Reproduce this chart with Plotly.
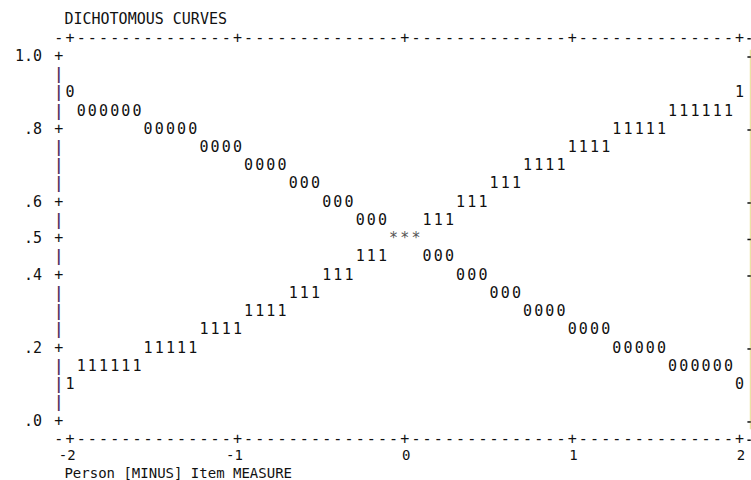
import plotly.graph_objects as go

# Character plot of the two dichotomous category curves (Winsteps style).
TITLE = "DICHOTOMOUS CURVES"
X_TITLE = "Person [MINUS] Item MEASURE"

MEASURE_MIN = -2
MEASURE_MAX = 2
COLS_PER_LOGIT = 15      # character columns per logit along the measure axis
ROW_STEP = 0.05          # probability covered by one text row

# Probability rows on which curve characters are printed
PROB_ROWS = [0.90, 0.85, 0.80, 0.75, 0.70, 0.65, 0.60, 0.55, 0.50,
             0.45, 0.40, 0.35, 0.30, 0.25, 0.20, 0.15, 0.10]
# (first column, last column) occupied by each curve on those rows
CURVE_0_COLS = [(0, 0), (1, 6), (7, 11), (12, 15), (16, 19), (20, 22), (23, 25),
                (26, 28), (29, 31), (32, 34), (35, 37), (38, 40), (41, 44),
                (45, 48), (49, 53), (54, 59), (60, 60)]
CURVE_1_COLS = [(60, 60), (54, 59), (49, 53), (45, 48), (41, 44), (38, 40),
                (35, 37), (32, 34), (29, 31), (26, 28), (23, 25), (20, 22),
                (16, 19), (12, 15), (7, 11), (1, 6), (0, 0)]

Y_TICK_VALS = [1.0, 0.8, 0.6, 0.5, 0.4, 0.2, 0.0]
Y_TICK_TEXT = ["1.0", ".8", ".6", ".5", ".4", ".2", ".0"]
X_TICK_VALS = [-2, -1, 0, 1, 2]
X_TICK_TEXT = ["-2", "-1", "0", "1", "2"]

FONT = "DejaVu Sans Mono"
SIZE = 15
LABEL_SIZE = 15
INK = "#111111"
RULE = "#55305f"
STAR = "#555555"
EDGE = "#ebe3a4"


def col_x(col):
    return MEASURE_MIN + col / COLS_PER_LOGIT


def x_col(x):
    return round((x - MEASURE_MIN) * COLS_PER_LOGIT)


def row_key(p):
    return round(p / ROW_STEP)


def text_trace(xs, ys, chars, color, position="middle center", size=SIZE,
               weight="normal"):
    return go.Scatter(
        x=xs, y=ys, text=chars, mode="text",
        textposition=position,
        textfont=dict(family=FONT, size=size, color=color, weight=weight),
        hoverinfo="skip", showlegend=False,
    )


# Fill the character grid; where both curves share a cell it prints "*"
cells = {}
for symbol, spans in (("0", CURVE_0_COLS), ("1", CURVE_1_COLS)):
    for p, (first, last) in zip(PROB_ROWS, spans):
        for c in range(first, last + 1):
            key = (c, row_key(p))
            if key in cells and cells[key] != symbol:
                cells[key] = "*"
            else:
                cells[key] = symbol

fig = go.Figure()

for symbol, color in (("0", INK), ("1", INK), ("*", STAR)):
    pts = [k for k, v in cells.items() if v == symbol]
    fig.add_trace(text_trace([col_x(c) for c, _ in pts],
                             [r * ROW_STEP for _, r in pts],
                             [symbol] * len(pts), color))

# Frame: dashed top/bottom rules with "+" at each measure tick
first_col = x_col(MEASURE_MIN)
last_col = x_col(MEASURE_MAX)
right_col = last_col + 1
tick_cols = {x_col(v) for v in X_TICK_VALS}
frame_cols = list(range(first_col - 1, last_col + 1))
border_rows = (1 + ROW_STEP, -ROW_STEP)
for y in border_rows:
    fig.add_trace(text_trace([col_x(c) for c in frame_cols], [y] * len(frame_cols),
                             ["+" if c in tick_cols else "-" for c in frame_cols], INK))

# Frame: left rule with "+" at each probability tick
tick_rows = {row_key(v) for v in Y_TICK_VALS}
n_rows = row_key(1.0)
bars = [r for r in range(n_rows + 1) if r not in tick_rows]
plus = [r for r in range(n_rows + 1) if r in tick_rows]
fig.add_trace(text_trace([col_x(first_col - 1)] * len(bars), [r * ROW_STEP for r in bars],
                         ["|"] * len(bars), RULE, weight="bold"))
fig.add_trace(text_trace([col_x(first_col - 1)] * len(plus), [r * ROW_STEP for r in plus],
                         ["+"] * len(plus), INK))

# Right rule sits on the page edge: only its left sliver shows
edge_x = col_x(right_col)
fig.add_shape(type="line", x0=edge_x, x1=edge_x,
              y0=-0.4 * ROW_STEP, y1=1 + 0.4 * ROW_STEP,
              line=dict(color=EDGE, width=2))
for y in list(border_rows) + [r * ROW_STEP for r in plus]:
    fig.add_shape(type="line", x0=col_x(right_col - 0.3), x1=edge_x, y0=y, y1=y,
                  line=dict(color=INK, width=1.5))

# Probability labels, right-aligned one blank column left of the rule
fig.add_trace(text_trace([col_x(first_col - 2.5)] * len(Y_TICK_VALS), Y_TICK_VALS,
                         Y_TICK_TEXT, INK, position="middle left", size=LABEL_SIZE))

# Measure labels, ending on their tick column
fig.add_trace(text_trace([col_x(x_col(v) + 0.5) for v in X_TICK_VALS],
                         [-1.9 * ROW_STEP] * len(X_TICK_VALS),
                         X_TICK_TEXT, INK, position="middle left", size=14))

# Chart title and measure-axis title
fig.add_trace(text_trace([col_x(first_col - 0.5)], [1 + 2 * ROW_STEP], [TITLE], INK,
                         position="middle right", size=LABEL_SIZE))
fig.add_trace(text_trace([col_x(first_col - 0.5)], [-2.88 * ROW_STEP], [X_TITLE], INK,
                         position="middle right", size=14))

fig.update_layout(
    width=751, height=480,
    margin=dict(l=0, r=0, t=0, b=0),
    paper_bgcolor="white", plot_bgcolor="white",
    xaxis=dict(range=[-2.4182, 2.0681], visible=False, fixedrange=True),
    yaxis=dict(range=[-0.1590, 1.1562], visible=False, fixedrange=True),
)

fig.write_html("out.html")
